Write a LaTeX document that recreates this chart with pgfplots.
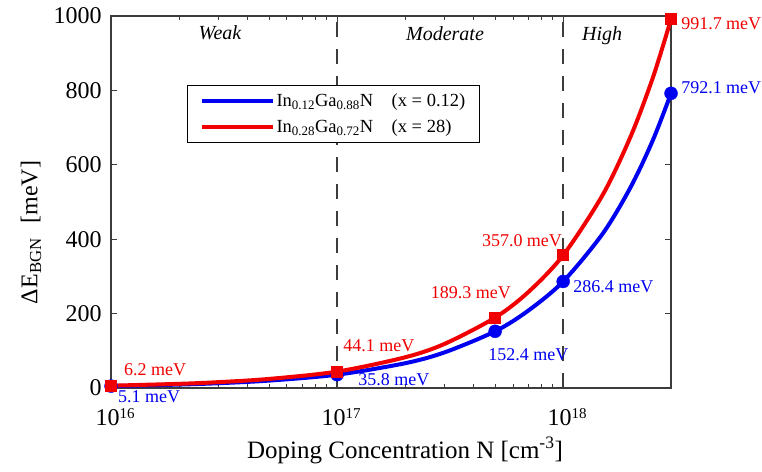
\documentclass[border=0pt]{standalone}
\usepackage{fontspec}
\setmainfont{Liberation Serif}
\usepackage{pgfplots}
\pgfplotsset{compat=1.18}
\definecolor{myblue}{RGB}{0,0,240}
\definecolor{myred}{RGB}{240,0,0}
\definecolor{axgray}{RGB}{60,60,60}
\newcommand{\tenp}[1]{10\raisebox{6.5pt}{\fontsize{15}{15}\selectfont #1}}

\begin{document}
\begin{tikzpicture}
\begin{axis}[name=ax, xmode=log, width=560pt, height=372pt, scale only axis,
 xmin=1e16, xmax=3e18, ymin=0, ymax=1000, clip=false,
 axis line style={axgray, line width=1.3pt},
 every tick/.style={axgray, line width=1pt},
 major tick length=6pt, minor tick length=4pt,
 xtick={1e16,1e17,1e18},
 xticklabels={\tenp{16},\tenp{17},\tenp{18}},
 ytick={0,200,400,600,800,1000}, yticklabels={0,200,400,600,800,1000},
 tick label style={font=\fontsize{24}{26}\selectfont},
 xticklabel style={anchor=base, yshift=-37pt, inner sep=0pt, xshift=4pt},
 yticklabel style={xshift=-6pt},
 legend style={at={(rel axis cs:0.1357,0.8145)}, anchor=north west, draw=black, line width=1pt,
   font=\fontsize{18.5}{20}\selectfont, inner xsep=12pt, inner ysep=6pt, row sep=8pt,
   /tikz/every even column/.append style={column sep=4pt}},
 legend cell align=left,
 legend image code/.code={\draw[#1, line width=4pt] (0pt,0pt) -- (71pt,0pt);},
]
\addplot[forget plot, axgray, line width=1.6pt, dash pattern=on 15pt off 12pt] coordinates {(1e17,0) (1e17,1000)};
\addplot[forget plot, axgray, line width=1.6pt, dash pattern=on 15pt off 12pt] coordinates {(1e18,0) (1e18,1000)};

% curves (points along each drawn curve)
\addplot[myblue, line width=4pt, smooth] coordinates {(1e16,5.1) (2e16,9.2) (3e16,12.9) (5e16,19.9) (1e17,35.8) (2e17,66.6) (3e17,96.2) (5e17,152.4) (7e17,207.8) (1e18,286.4) (1.5e18,416) (2e18,543) (2.5e18,668) (3e18,792.1)};
\addlegendentry{In\textsubscript{0.12}Ga\textsubscript{0.88}N\quad(x = 0.12)}
\addplot[myred, line width=4pt, smooth] coordinates {(1e16,6.2) (2e16,11.2) (3e16,15.8) (5e16,24.4) (1e17,44.1) (2e17,82.6) (3e17,119.1) (5e17,189.3) (7e17,257.5) (1e18,357.0) (1.5e18,520.6) (2e18,680) (2.5e18,836.6) (3e18,991.7)};
\addlegendentry{In\textsubscript{0.28}Ga\textsubscript{0.72}N\quad(x = 28)}

\addplot[forget plot, only marks, mark=*, mark size=6.5pt, mark options={fill=myblue, draw=myblue}] coordinates {(1e16,5.1) (1e17,35.8) (5e17,152.4) (1e18,286.4) (3e18,792.1)};
\addplot[forget plot, only marks, mark=square*, mark size=5.5pt, mark options={fill=myred, draw=myred}] coordinates {(1e16,6.2) (1e17,44.1) (5e17,189.3) (1e18,357.0) (3e18,991.7)};

\begin{scope}[font=\fontsize{18}{20}\selectfont]
\node[anchor=base west, text=myred, inner sep=0pt] at ([xshift=13pt,yshift=9.7pt]axis cs:1e16,6.2) {6.2 meV};
\node[anchor=base west, text=myblue, inner sep=0pt] at ([xshift=7pt,yshift=-16.5pt]axis cs:1e16,5.1) {5.1 meV};
\node[anchor=base west, text=myred, inner sep=0pt] at ([xshift=6pt,yshift=19.6pt]axis cs:1e17,44.1) {44.1 meV};
\node[anchor=base west, text=myblue, inner sep=0pt] at ([xshift=21pt,yshift=-11.3pt]axis cs:1e17,35.8) {35.8 meV};
\node[anchor=base east, text=myred, inner sep=0pt] at ([xshift=16pt,yshift=18.8pt]axis cs:5e17,189.3) {189.3 meV};
\node[anchor=base west, text=myblue, inner sep=0pt] at ([xshift=-7pt,yshift=-29.5pt]axis cs:5e17,152.4) {152.4 meV};
\node[anchor=base east, text=myred, inner sep=0pt] at ([xshift=-1pt,yshift=8.6pt]axis cs:1e18,357.0) {357.0 meV};
\node[anchor=base west, text=myblue, inner sep=0pt] at ([xshift=10pt,yshift=-11.3pt]axis cs:1e18,286.4) {286.4 meV};
\node[anchor=base west, text=myred, inner sep=0pt] at ([xshift=10pt,yshift=-10.9pt]axis cs:3e18,991.7) {991.7 meV};
\node[anchor=base west, text=myblue, inner sep=0pt] at ([xshift=10pt,yshift=0pt]axis cs:3e18,792.1) {792.1 meV};
\end{scope}
\begin{scope}[font=\fontsize{20}{22}\selectfont\itshape]
\node[anchor=base] at (rel axis cs:0.1946,0.9355) {Weak};
\node[anchor=base] at (rel axis cs:0.5964,0.933) {Moderate};
\node[anchor=base] at (rel axis cs:0.8768,0.933) {High};
\end{scope}
\node[anchor=base, font=\fontsize{25}{28}\selectfont] at ([yshift=-70pt]rel axis cs:0.525,0) {Doping Concentration N [cm\textsuperscript{-3}]};
\node[rotate=90, font=\fontsize{24}{26}\selectfont] at ([xshift=-80pt]rel axis cs:0,0.418) {ΔE\textsubscript{BGN}\hspace{0.6em}[meV]};
\end{axis}
\pgfresetboundingbox
\path ([shift={(-111pt,-83pt)}]ax.south west) rectangle ([shift={(91pt,16pt)}]ax.north east);
\end{tikzpicture}
\end{document}
